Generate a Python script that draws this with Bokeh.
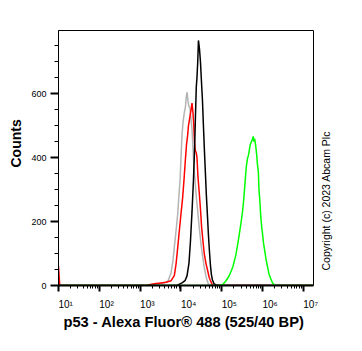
from bokeh.plotting import figure
from bokeh.models import Range1d, FixedTicker, Title, LinearAxis
from bokeh.embed import file_html
from bokeh.resources import INLINE

# ---- data (log10 of fluorescence intensity, counts) ----
gray_log = [1.0, 3.20, 3.271, 3.466, 3.588, 3.685, 3.759, 3.808, 3.839, 3.882, 3.923, 3.948, 3.979,
            4.003, 4.027, 4.052, 4.083, 4.113, 4.132, 4.154, 4.174, 4.198, 4.223, 4.247,
            4.272, 4.296, 4.320, 4.345, 4.369, 4.411, 4.443, 4.491, 4.528, 4.572, 4.613,
            4.638, 4.674, 4.711, 7.25]
gray_cnt = [0, 0, 3, 5, 8, 14, 40, 80, 120, 172, 225, 276, 328,
            400, 470, 510, 540, 560, 590, 604, 575, 560, 555, 520,
            490, 430, 370, 330, 290, 234, 190, 131, 95, 57, 30,
            18, 5, 0, 0]

red_log = [1.0, 1.03, 3.15, 3.222, 3.393, 3.515, 3.637, 3.759, 3.839, 3.882, 3.923, 3.962, 4.003,
           4.044, 4.076, 4.108, 4.137, 4.166, 4.186, 4.206, 4.230, 4.247, 4.272, 4.296,
           4.316, 4.333, 4.352, 4.377, 4.394, 4.418, 4.450, 4.479, 4.508, 4.540, 4.572,
           4.613, 4.655, 4.694, 4.735, 4.776, 7.25]
red_cnt = [60, 0, 0, 2, 6, 8, 10, 15, 31, 68, 120, 172, 225,
           276, 330, 390, 440, 470, 500, 515, 535, 547, 570, 540,
           500, 450, 422, 415, 400, 340, 290, 240, 182, 140, 100,
           70, 47, 25, 12, 0, 0]

black_log = [1.0, 3.90, 4.027, 4.101, 4.150, 4.198, 4.235, 4.272, 4.308, 4.333, 4.357, 4.377,
             4.394, 4.413, 4.430, 4.455, 4.479, 4.503, 4.528, 4.552, 4.577, 4.601, 4.625,
             4.650, 4.674, 4.698, 4.723, 4.747, 4.772, 4.808, 4.857, 4.930, 7.25]
black_cnt = [0, 0, 8, 15, 30, 70, 140, 230, 330, 420, 530, 620,
             650, 700, 766, 740, 700, 640, 580, 500, 420, 350, 280,
             220, 160, 110, 65, 35, 18, 6, 2, 0, 0]

green_log = [1.0, 4.931, 5.028, 5.101, 5.175, 5.223, 5.272, 5.345, 5.394, 5.426, 5.467, 5.509,
             5.541, 5.573, 5.602, 5.631, 5.651, 5.670, 5.699, 5.724, 5.748, 5.772, 5.792,
             5.809, 5.833, 5.857, 5.874, 5.899, 5.913, 5.938, 5.955, 5.979, 5.996, 6.028,
             6.060, 6.089, 6.118, 6.157, 6.199, 6.240, 6.272, 6.321, 7.25]
green_cnt = [0, 0, 3, 14, 28, 42, 58, 94, 130, 156, 190, 229,
             270, 323, 370, 396, 405, 417, 440, 448, 455, 466, 450,
             458, 437, 410, 381, 355, 300, 260, 220, 185, 167, 130,
             104, 80, 62, 37, 22, 10, 4, 0, 0]

x_decades = [1, 2, 3, 4, 5, 6, 7]
x_tick_labels = ["10¹", "10²", "10³", "10⁴", "10⁵", "10⁶", "10⁷"]
y_major = [0, 200, 400, 600]
y_minor = [50, 100, 150, 250, 300, 350, 450, 500, 550, 650, 700, 750]

x_title = "p53 - Alexa Fluor® 488  (525/40 BP)"
y_title = "Counts"
copyright_text = "Copyright (c) 2023 Abcam Plc"

FONT = "Liberation Sans"

p = figure(width=362, height=351, x_axis_type="log",
           x_range=Range1d(10, 10 ** 7.25), y_range=Range1d(0, 797),
           output_backend="svg", toolbar_location=None,
           min_border_left=57, min_border_right=49, min_border_top=30, min_border_bottom=66)
p.background_fill_color = "white"
p.border_fill_color = "white"
p.outline_line_color = "black"
p.outline_line_width = 1
p.grid.visible = False

def tolin(arr):
    return [10 ** v for v in arr]

p.line(tolin(gray_log), gray_cnt, line_color="#b4b4b4", line_width=1.5)
p.line(tolin(red_log), red_cnt, line_color="#ff0000", line_width=1.5)
p.line(tolin(black_log), black_cnt, line_color="#000000", line_width=1.5)
p.line(tolin(green_log), green_cnt, line_color="#00ff00", line_width=1.5)

major_vals = [float(10 ** d) for d in x_decades]
minor_vals = [float(k * 10 ** d) for d in x_decades[:-1] for k in range(2, 10)]
p.xaxis.ticker = FixedTicker(ticks=major_vals, minor_ticks=minor_vals)
p.xaxis.major_label_overrides = {v: lab for v, lab in zip(major_vals, x_tick_labels)}
p.yaxis.ticker = FixedTicker(ticks=y_major, minor_ticks=y_minor)

for ax in (p.xaxis[0], p.yaxis[0]):
    ax.axis_line_color = "black"
    ax.major_tick_line_color = "black"
    ax.minor_tick_line_color = "black"
    ax.major_tick_in = 0
    ax.minor_tick_in = 0
    ax.major_label_text_font = FONT
    ax.major_label_text_color = "black"

p.xaxis.axis_line_width = 2
p.xaxis.major_tick_out = 6
p.xaxis.minor_tick_out = 3
p.xaxis.major_tick_line_width = 2
p.xaxis.minor_tick_line_width = 1
p.xaxis.major_label_text_font_size = "10px"
p.xaxis.major_label_orientation = -0.0001
p.xaxis.major_label_standoff = 13
p.xaxis.axis_label = x_title
p.xaxis.axis_label_text_font = FONT
p.xaxis.axis_label_text_font_style = "bold"
p.xaxis.axis_label_text_font_size = "14.7px"
p.xaxis.axis_label_text_color = "black"
p.xaxis.axis_label_standoff = -5

p.yaxis.axis_line_width = 1
p.yaxis.major_tick_out = 8
p.yaxis.minor_tick_out = 4
p.yaxis.major_tick_line_width = 2
p.yaxis.minor_tick_line_width = 1
p.yaxis.major_label_text_font_size = "9px"
p.yaxis.major_label_standoff = 4

# y title on the left
p.add_layout(Title(text=y_title, align="left", offset=118, text_font=FONT,
                   text_font_style="bold", text_font_size="14px", text_color="black"), "left")

# copyright note on the right side (as a single label on an unticked right axis)
copyright_anchor = 47
rax = LinearAxis(ticker=FixedTicker(ticks=[copyright_anchor]), axis_line_color=None,
                 major_tick_line_color=None, minor_tick_line_color=None,
                 major_tick_out=0, major_tick_in=0,
                 major_label_overrides={copyright_anchor: copyright_text},
                 major_label_orientation=1.5708, major_label_standoff=13,
                 major_label_text_font=FONT, major_label_text_font_size="10.5px",
                 major_label_text_color="black")
p.add_layout(rax, "right")

open("out.html", "w").write(file_html(p, INLINE))
